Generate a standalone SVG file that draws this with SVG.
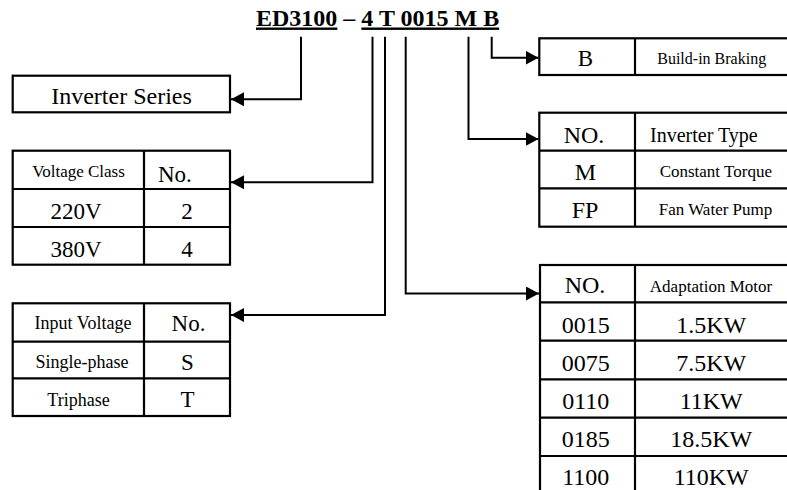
<svg xmlns="http://www.w3.org/2000/svg" width="787" height="490" viewBox="0 0 787 490">
  <style>
    text { font-family: "Liberation Serif", "Times New Roman", serif; fill: #000; }
    .title { font-size: 24px; font-weight: bold; }
    .lg { font-size: 23px; }
    .xl { font-size: 24px; }
    .sm { font-size: 17px; }
    .md { font-size: 18px; }
    .mid { text-anchor: middle; }
    .box { fill: #fff; stroke: #000; stroke-width: 2.2; }
    .grid { fill: none; stroke: #000; stroke-width: 2.2; }
    .conn { fill: none; stroke: #000; stroke-width: 2; }
  </style>
  <defs>
    <marker id="arrow" markerUnits="userSpaceOnUse" markerWidth="14" markerHeight="14" refX="13" refY="7" orient="auto">
      <path d="M0,0 L13,7 L0,14 z" fill="#000"/>
    </marker>
  </defs>
  <rect width="787" height="490" fill="#fff"/>

  <g id="title">
    <text class="title" x="256" y="25.5"><tspan text-decoration="underline">ED3100</tspan> – <tspan text-decoration="underline">4 T 0015 M B</tspan></text>
  </g>

  <g id="inverter-series">
    <rect class="box" x="12.7" y="75.7" width="217.3" height="36.6"/>
    <text class="xl mid" x="121.5" y="104.3">Inverter Series</text>
  </g>

  <g id="voltage-class">
    <rect class="box" x="12.7" y="150.7" width="217.3" height="114"/>
    <path class="grid" d="M144,150.7 V264.7 M12.7,189 H230 M12.7,227 H230"/>
    <text class="sm mid" x="78.5" y="177.3">Voltage Class</text>
    <text class="lg" x="158" y="181.7">No.</text>
    <text class="lg mid" x="76" y="219.3">220V</text>
    <text class="lg mid" x="187" y="219.3">2</text>
    <text class="lg mid" x="76" y="256.7">380V</text>
    <text class="lg mid" x="187" y="256.7">4</text>
  </g>

  <g id="input-voltage">
    <rect class="box" x="12.7" y="303.3" width="217.3" height="112.7"/>
    <path class="grid" d="M144,303.3 V416 M12.7,341.7 H230 M12.7,378.3 H230"/>
    <text class="md mid" x="83" y="329.3">Input Voltage</text>
    <text class="lg mid" x="188.5" y="331">No.</text>
    <text class="md mid" x="82" y="367.7">Single-phase</text>
    <text class="lg mid" x="187.5" y="370">S</text>
    <text class="md mid" x="78.5" y="406">Triphase</text>
    <text class="lg mid" x="187.5" y="407.3">T</text>
  </g>

  <g id="braking">
    <rect class="box" x="539.3" y="38.3" width="252" height="36.7"/>
    <path class="grid" d="M635,38.3 V75"/>
    <text class="lg mid" x="585.5" y="66">B</text>
    <text class="mid" style="font-size:16px" x="711.7" y="64.3">Build-in Braking</text>
  </g>

  <g id="inverter-type">
    <rect class="box" x="539.3" y="112.7" width="252" height="114"/>
    <path class="grid" d="M635,112.7 V226.7 M539.3,150.7 H791 M539.3,188.3 H791"/>
    <text class="xl mid" x="584" y="142.7">NO.</text>
    <text style="font-size:20px" x="650" y="141.7">Inverter Type</text>
    <text class="xl mid" x="585.3" y="180">M</text>
    <text class="sm mid" x="715.8" y="177.3">Constant Torque</text>
    <text class="xl mid" x="585" y="217.7">FP</text>
    <text class="sm mid" x="715.5" y="215">Fan Water Pump</text>
  </g>

  <g id="adaptation-motor">
    <rect class="box" x="540" y="265" width="252" height="240"/>
    <path class="grid" d="M635,265 V495 M540,302.3 H791 M540,340.7 H791 M540,379.3 H791 M540,417.7 H791 M540,456 H791"/>
    <text class="xl mid" x="585" y="293.3">NO.</text>
    <text class="sm mid" x="711" y="291.7">Adaptation Motor</text>
    <text class="xl mid" x="585.8" y="332.7">0015</text>
    <text class="xl mid" x="711.2" y="332.7">1.5KW</text>
    <text class="xl mid" x="585.8" y="370.5">0075</text>
    <text class="xl mid" x="711.2" y="370.5">7.5KW</text>
    <text class="xl mid" x="585.8" y="408.5">0110</text>
    <text class="xl mid" x="711.2" y="408.5">11KW</text>
    <text class="xl mid" x="585.8" y="446.7">0185</text>
    <text class="xl mid" x="711.2" y="446.7">18.5KW</text>
    <text class="xl mid" x="585.8" y="485">1100</text>
    <text class="xl mid" x="711.2" y="485">110KW</text>
  </g>

  <g id="connectors">
    <path class="conn" d="M301,36.7 V99.3 H231" marker-end="url(#arrow)"/>
    <path class="conn" d="M372.5,36.7 V182.3 H231" marker-end="url(#arrow)"/>
    <path class="conn" d="M385,36.7 V315 H231" marker-end="url(#arrow)"/>
    <path class="conn" d="M405.7,36.7 V293.5 H539" marker-end="url(#arrow)"/>
    <path class="conn" d="M468.5,36.7 V139 H538.5" marker-end="url(#arrow)"/>
    <path class="conn" d="M491.7,36.7 V57.7 H538.5" marker-end="url(#arrow)"/>
  </g>
</svg>
